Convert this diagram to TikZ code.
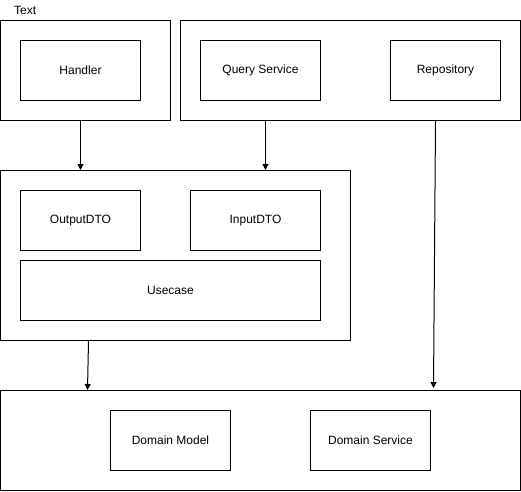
\documentclass[tikz,border=0pt]{standalone}
\usepackage{fontspec}
\setmainfont{Liberation Sans}
\usetikzlibrary{arrows.meta}
\begin{document}
\begin{tikzpicture}[x=1pt,y=-1pt,
  box/.style={draw=black,line width=1pt,inner sep=0pt,font=\fontsize{12}{14}\selectfont},
  conn/.style={draw=black,line width=1pt,-{Triangle[length=6pt,width=6pt]}}]
\useasboundingbox (0,0) rectangle (521,491);
% outer groups
\node[box,minimum width=170pt,minimum height=100pt] (A) at (85.5,70.5) {};
\node[box,minimum width=340pt,minimum height=100pt] (B) at (350.5,70.5) {};
\node[box,minimum width=350pt,minimum height=170pt] (C) at (175.5,255.5) {};
\node[box,minimum width=520pt,minimum height=100pt] (D) at (260.5,440.5) {};
% inner boxes
\node[box,minimum width=120pt,minimum height=60pt] (handler) at (80.5,70.5) {Handler};
\node[box,minimum width=120pt,minimum height=60pt] (query) at (260.5,70.5) {Query Service};
\node[box,minimum width=110pt,minimum height=60pt] (repo) at (445.5,70.5) {Repository};
\node[box,minimum width=120pt,minimum height=60pt] (out) at (80.5,220.5) {OutputDTO};
\node[box,minimum width=130pt,minimum height=60pt] (in) at (255.5,220.5) {InputDTO};
\node[box,minimum width=300pt,minimum height=60pt] (uc) at (170.5,290.5) {Usecase};
\node[box,minimum width=120pt,minimum height=60pt] (dm) at (170.5,440.5) {Domain Model};
\node[box,minimum width=120pt,minimum height=60pt] (ds) at (370.5,440.5) {Domain Service};
\node[font=\fontsize{12}{14}\selectfont,anchor=west,inner sep=0pt] (lbl) at (14,10) {Text};
% connectors
\coordinate (a1) at (A.south -| 80.5,0);
\coordinate (a2) at (C.north -| 80.5,0);
\draw[conn] (a1) -- (a2);
\coordinate (b1) at (B.south -| 265.5,0);
\coordinate (b2) at (C.north -| 265.5,0);
\draw[conn] (b1) -- (b2);
\coordinate (r1) at (B.south -| 435.5,0);
\coordinate (r2) at (433.5,388);
\draw[conn] (r1) -- (r2);
\coordinate (c1) at (C.south -| 88.5,0);
\coordinate (c2) at (87.5,390);
\draw[conn] (c1) -- (c2);
\end{tikzpicture}
\end{document}
